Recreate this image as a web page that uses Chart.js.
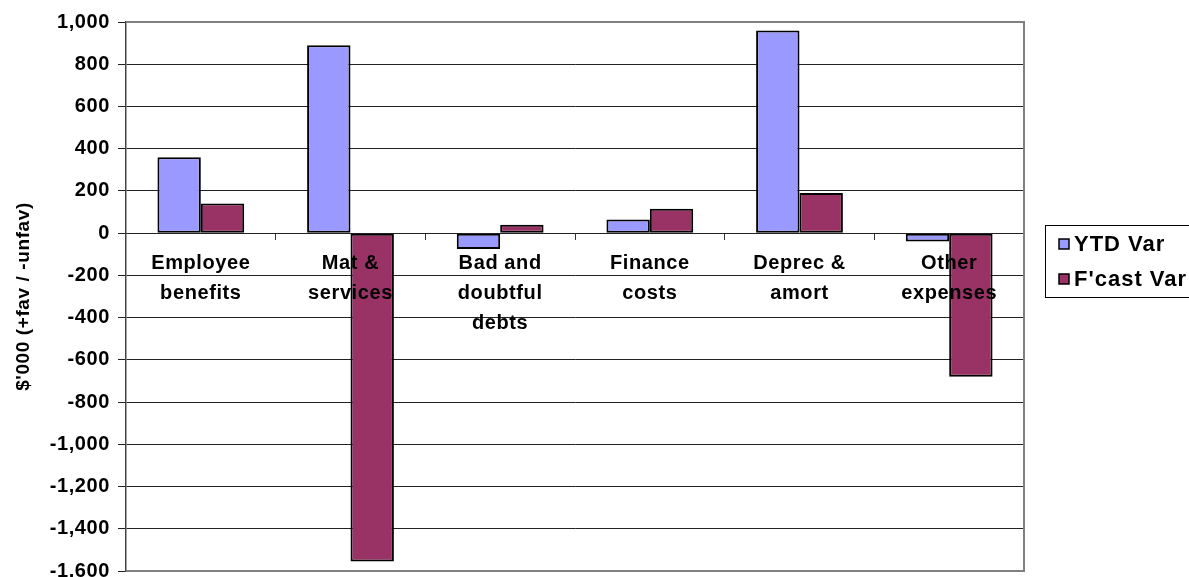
<!DOCTYPE html>
<html>
<head>
<meta charset="utf-8">
<script src="https://cdn.jsdelivr.net/npm/chart.js@4/dist/chart.umd.min.js"></script>
<style>
  html, body { margin: 0; padding: 0; background: #fff; }
  #wrap { width: 1189px; height: 577px; position: relative; }
</style>
</head>
<body>
<div id="wrap"><canvas id="chart"></canvas></div>
<script>
// data
const categories = [
    ["Employee", "benefits"],
    ["Mat &", "services"],
    ["Bad and", "doubtful", "debts"],
    ["Finance", "costs"],
    ["Deprec &", "amort"],
    ["Other", "expenses"]
];
const ytdVar = [360, 890, -75, 65, 960, -40];
const fcastVar = [140, -1555, 40, 115, 190, -680];
const seriesNames = ["YTD Var", "F'cast Var"];
const seriesColors = ["#9999ff", "#993366"];
const yMin = -1600;
const yMax = 1000;
const yStep = 200;
const yTitle = "$'000 (+fav / -unfav)";

const FONT = "Arial, 'Liberation Sans', sans-serif";

// small spacing between letters like the original rendering
const letterSpacing = {
    id: 'letterSpacing',
    beforeDraw(chart) {
        chart.ctx.letterSpacing = '0.6px';
    }
};

// grey frame round the plot area
const plotFrame = {
    id: 'plotFrame',
    beforeDatasetsDraw(chart) {
        const { ctx, chartArea: a } = chart;
        ctx.save();
        ctx.strokeStyle = '#808080';
        ctx.lineWidth = 2;
        ctx.beginPath();
        ctx.moveTo(a.left, a.top);
        ctx.lineTo(a.right, a.top);
        ctx.lineTo(a.right, a.bottom);
        ctx.lineTo(a.left, a.bottom);
        ctx.stroke();
        ctx.restore();
    }
};

// boxed legend on the right, partly cut by the window edge
const boxLegend = {
    id: 'boxLegend',
    afterDraw(chart) {
        const ctx = chart.ctx;
        const x = 1045, y = 225, w = 160, h = 72;
        ctx.save();
        ctx.letterSpacing = '1px';
        ctx.strokeStyle = '#000';
        ctx.lineWidth = 1;
        ctx.strokeRect(x + 0.5, y + 0.5, w, h);
        ctx.font = 'bold 22px ' + FONT;
        ctx.textBaseline = 'middle';
        chart.data.datasets.forEach((ds, i) => {
            const cy = 244 + i * 35;
            ctx.fillStyle = ds.backgroundColor;
            ctx.fillRect(1059, cy - 5, 10, 10);
            ctx.strokeStyle = '#000';
            ctx.lineWidth = 1.5;
            ctx.strokeRect(1059, cy - 5, 10, 10);
            ctx.fillStyle = '#000';
            ctx.fillText(ds.label, 1074, cy + 1);
        });
        ctx.restore();
    }
};

new Chart(document.getElementById('chart'), {
    type: 'bar',
    data: {
        labels: categories,
        datasets: [
            {
                label: seriesNames[0],
                data: ytdVar,
                backgroundColor: seriesColors[0],
                borderColor: '#000',
                borderWidth: 2,
                borderSkipped: false
            },
            {
                label: seriesNames[1],
                data: fcastVar,
                backgroundColor: seriesColors[1],
                borderColor: '#000',
                borderWidth: 2,
                borderSkipped: false
            }
        ]
    },
    options: {
        responsive: true,
        maintainAspectRatio: false,
        animation: false,
        events: [],
        layout: {
            padding: { left: 0, top: 22, right: 165, bottom: 6 }
        },
        datasets: {
            bar: {
                categoryPercentage: 0.58,
                barPercentage: 1
            }
        },
        plugins: {
            legend: { display: false },
            tooltip: { enabled: false }
        },
        scales: {
            x: {
                position: { y: 0 },
                grid: {
                    offset: true,
                    drawOnChartArea: false,
                    drawTicks: true,
                    tickLength: 6,
                    color: '#333'
                },
                border: { display: true, color: '#222', width: 1 },
                ticks: {
                    z: 1,
                    padding: 9,
                    maxRotation: 0,
                    autoSkip: false,
                    color: '#000',
                    font: { family: FONT, size: 20, weight: 'bold', lineHeight: 1.5 }
                },
                afterFit(scale) {
                    scale.paddingLeft = 0;
                    scale.paddingRight = 0;
                }
            },
            y: {
                position: 'left',
                min: yMin,
                max: yMax,
                ticks: {
                    stepSize: yStep,
                    padding: 8,
                    color: '#000',
                    font: { family: FONT, size: 20, weight: 'bold' }
                },
                grid: {
                    color: '#222',
                    lineWidth: 1,
                    drawTicks: true,
                    tickLength: 8
                },
                border: { display: true, color: '#444', width: 1.5 },
                title: {
                    display: true,
                    text: yTitle,
                    color: '#000',
                    padding: { top: 12, bottom: 0 },
                    font: { family: FONT, size: 19, weight: 'bold' }
                },
                afterFit(scale) {
                    scale.width = 126;
                    scale.paddingTop = 0;
                    scale.paddingBottom = 0;
                }
            }
        }
    },
    plugins: [letterSpacing, plotFrame, boxLegend]
});
</script>
</body>
</html>
